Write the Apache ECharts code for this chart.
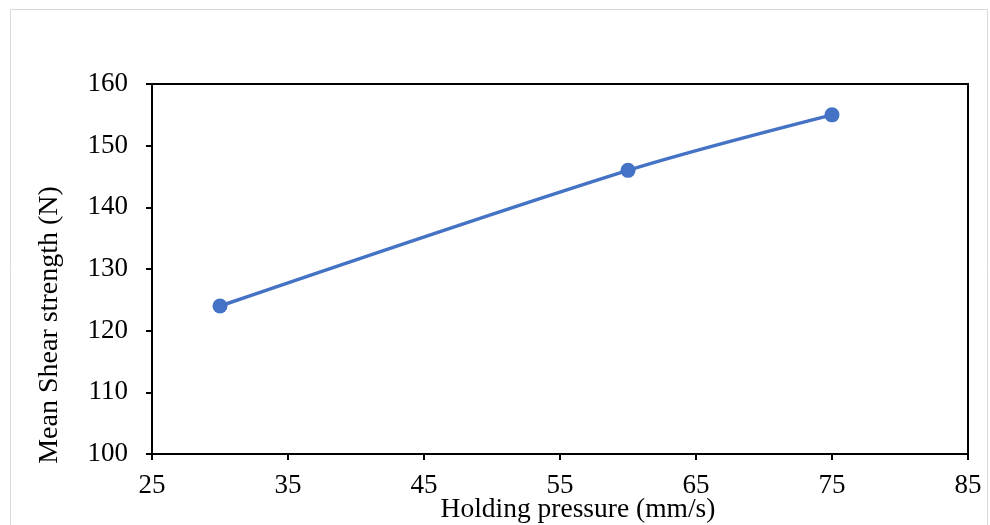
<!DOCTYPE html>
<html><head><meta charset="utf-8">
<script src="https://cdn.jsdelivr.net/npm/echarts@6/dist/echarts.min.js"></script>
<style>html,body{margin:0;padding:0;background:#fff}#c{width:990px;height:525px}</style>
</head><body><div id="c"></div>
<script>
const xValues = [30, 60, 75];
const yValues = [124, 146, 155];
const xTicks = [25, 35, 45, 55, 65, 75, 85];
const yTicks = [100, 110, 120, 130, 140, 150, 160];
const xTitle = 'Holding pressure (mm/s)';
const yTitle = 'Mean Shear strength (N)';

const chart = echarts.init(document.getElementById('c'), null, {renderer: 'canvas'});
const font = 'Liberation Serif';
chart.setOption({
  animation: false,
  backgroundColor: '#fff',
  grid: {left: 152, top: 84, right: 22, bottom: 71, show: true, borderColor: '#000', borderWidth: 2},
  graphic: [
    {type: 'rect', shape: {x: 10.5, y: 9.5, width: 977, height: 530}, style: {fill: 'none', stroke: '#d9d9d9', lineWidth: 1}, silent: true},
    {type: 'text', x: 578, y: 510, style: {text: xTitle, font: '27.5px "Liberation Serif"', fill: '#000', align: 'center', verticalAlign: 'middle'}},
    {type: 'text', x: 50, y: 325, rotation: Math.PI / 2, style: {text: yTitle, font: '28px "Liberation Serif"', fill: '#000', align: 'center', verticalAlign: 'middle'}}
  ],
  xAxis: {
    type: 'value', min: xTicks[0], max: xTicks[xTicks.length - 1], interval: 10,
    axisLine: {lineStyle: {color: '#000', width: 2}},
    axisTick: {show: true, inside: false, length: 6, lineStyle: {color: '#000', width: 2}},
    axisLabel: {color: '#000', fontFamily: font, fontSize: 27, margin: 18},
    splitLine: {show: false}
  },
  yAxis: {
    type: 'value', min: yTicks[0], max: yTicks[yTicks.length - 1], interval: 10,
    axisLine: {show: true, lineStyle: {color: '#000', width: 2}},
    axisTick: {show: true, inside: false, length: 6, lineStyle: {color: '#000', width: 2}},
    axisLabel: {color: '#000', fontFamily: font, fontSize: 27, margin: 24},
    splitLine: {show: false}
  },
  series: [{
    type: 'line',
    data: xValues.map((x, i) => [x, yValues[i]]),
    smooth: 0.3,
    symbol: 'circle', symbolSize: 15,
    lineStyle: {color: '#4472C4', width: 3.5},
    itemStyle: {color: '#4472C4'}
  }]
});
</script></body></html>
